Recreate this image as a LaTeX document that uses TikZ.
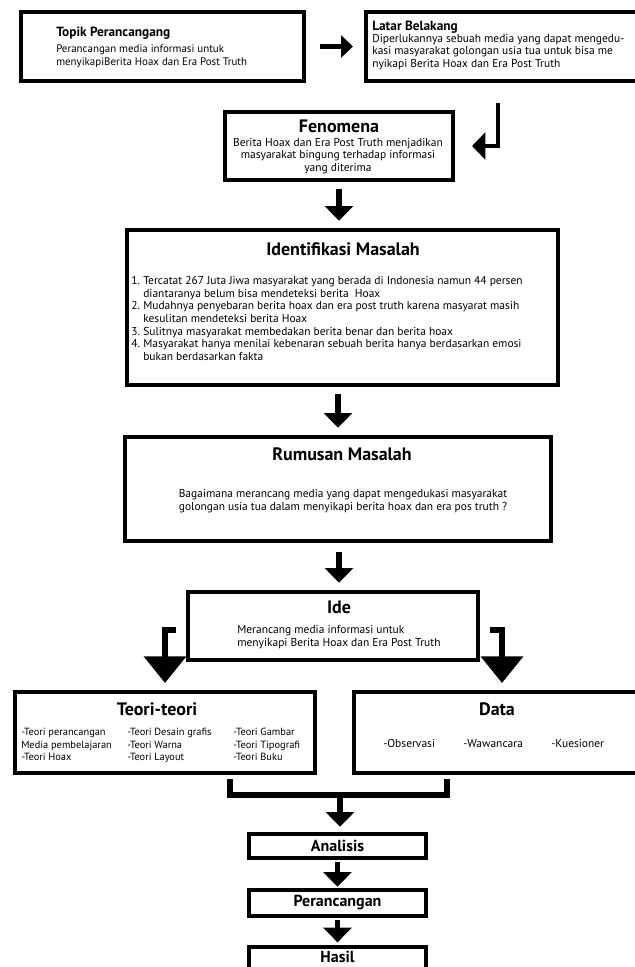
\documentclass[tikz,border=0pt]{standalone}
\usepackage{fontspec}
\setmainfont{PT Sans}
\usetikzlibrary{arrows.meta,calc}

\begin{document}
\begin{tikzpicture}[x=0.75pt, y=-0.75pt,
	box/.style={shape=rectangle, draw, line width=3pt, inner sep=0pt},
	ttl/.style={anchor=center, inner sep=0pt, font=\bfseries\fontsize{13.5}{15}\selectfont},
	lowttl/.style={anchor=center, inner sep=0pt, font=\bfseries\fontsize{12}{14}\selectfont},
	smallttl/.style={anchor=west, inner sep=0pt, font=\bfseries\fontsize{10}{12}\selectfont},
	body/.style={inner sep=0pt, font=\fontsize{8.6}{9.4}\selectfont},
	flow/.style={line width=4.2pt, -{Triangle[width=21pt,length=11pt]}, shorten <=5pt, shorten >=5.5pt},
	fork/.style={line width=4.5pt, line join=miter, -{Triangle[width=31pt,length=20pt]}, shorten >=5.25pt},
	merge/.style={line width=4.5pt, line join=miter, shorten <=3pt, shorten >=3pt}]
	\useasboundingbox (0,0) rectangle (635,967);
	% Boxes and texts:
	\node[box, minimum width=212.25pt, minimum height=51.75pt] (topik) at (162.5, 46.5){} node[smallttl] (topikTitle) at (56, 33){Topik Perancangang};
	\node[body, anchor=west, align=left, font=\fontsize{8.2}{9.6}\selectfont] (topikText) at (56, 56.5){Perancangan media informasi untuk\\menyikapiBerita Hoax dan Era Post Truth};
	\node[box, minimum width=212pt, minimum height=51.75pt] (latar) at (507, 46.5){} node[smallttl] (latarTitle) at (372, 27){Latar Belakang};
	\node[body, anchor=west, align=left] (latarText) at (372, 52){Diperlukannya sebuah media yang dapat mengedu-\\kasi masyarakat golongan usia tua untuk bisa me\\nyikapi Berita Hoax dan Era Post Truth};
	\node[box, minimum width=171pt, minimum height=51pt] (fenomena) at (339, 146){} node[ttl] (fenomenaTitle) at (339, 126){Fenomena};
	\node[body, align=center] (fenomenaText) at (338, 156){Berita Hoax dan Era Post Truth menjadikan\\masyarakat bingung terhadap informasi\\yang diterima};
	\node[box, minimum width=323.25pt, minimum height=116.25pt] (ident) at (342.5, 307.5){} node[ttl] (identTitle) at (343, 249){Identifikasi Masalah};
	\node[body, anchor=west] (identText) at (131, 320){\begin{tabular}{@{}r@{\hspace{2.5pt}}l@{}}
		1. & Tercatat 267 Juta Jiwa masyarakat yang berada di Indonesia namun 44 persen\\
		   & diantaranya belum bisa mendeteksi berita\ \ Hoax\\
		2. & Mudahnya penyebaran berita hoax dan era post truth karena masyarat masih\\
		   & kesulitan mendeteksi berita Hoax\\
		3. & Sulitnya masyarakat membedakan berita benar dan berita hoax\\
		4. & Masyarakat hanya menilai kebenaran sebuah berita hanya berdasarkan emosi\\
		   & bukan berdasarkan fakta
	\end{tabular}};
	\node[box, minimum width=319.5pt, minimum height=78pt] (rumusan) at (338, 489){} node[ttl] (rumusanTitle) at (342, 454){Rumusan Masalah};
	\node[body, align=center] (rumusanText) at (343, 501){Bagaimana merancang media yang dapat mengedukasi masyarakat\\golongan usia tua dalam menyikapi berita hoax dan era pos truth ?};
	\node[box, minimum width=217.5pt, minimum height=51pt] (ide) at (333, 626){} node[ttl] (ideTitle) at (339, 607){Ide};
	\node[body, anchor=west, align=left] (ideText) at (237, 637){Merancang media informasi untuk\\menyikapi Berita Hoax dan Era Post Truth};
	\node[box, minimum width=225pt, minimum height=60.75pt] (teori) at (165, 732.5){} node[ttl] (teoriTitle) at (157, 709){Teori-teori};
	\node[body, anchor=west, font=\fontsize{7.8}{9.4}\selectfont] (teoriText) at (21, 745.5){\begin{tabular}{@{}p{79.5pt}@{}p{79.5pt}@{}l@{}}
		-Teori perancangan & -Teori Desain grafis & -Teori Gambar\\
		Media pembelajaran & -Teori Warna & -Teori Tipografi\\
		-Teori Hoax & -Teori Layout & -Teori Buku
	\end{tabular}};
	\node[box, minimum width=222pt, minimum height=60.75pt] (data) at (502, 732.5){} node[ttl] (dataTitle) at (497, 709){Data};
	\node[body, anchor=base west] (obs) at (383, 747){-Observasi};
	\node[body, anchor=base west] (waw) at (463, 747){-Wawancara};
	\node[body, anchor=base west] (kues) at (551, 747){-Kuesioner};
	\node[box, minimum width=132.75pt, minimum height=18pt] (analisis) at (337.5, 846){} node[lowttl] (analisisT) at (337.5, 846){Analisis};
	\node[box, minimum width=132.75pt, minimum height=19.5pt] (peran) at (337.5, 903){} node[lowttl] (peranT) at (337.5, 903){Perancangan};
	\node[box, minimum width=132.75pt, minimum height=22.5pt] (hasil) at (337.5, 962){} node[lowttl] (hasilT) at (337.5, 957){Hasil};
	% Arrows:
	\coordinate (turn) at (498, 103);
	\coordinate (forkL) at (176, 630);
	\coordinate (forkR) at (490, 630);
	\coordinate (mergeL) at (230, 795);
	\coordinate (mergeR) at (447, 795);
	\coordinate (mergeC) at (340, 795);
	\draw[flow, -{Triangle[width=16.5pt,length=9pt]}, shorten <=10.5pt, shorten >=8pt] (topik.east) -- (latar.west);
	\draw[line width=3pt, line join=miter, -{Triangle[width=20pt,length=10pt]}, shorten >=12.75pt] (turn) |- (fenomena.east);
	\draw[flow] (fenomena.south) -- (fenomena.south |- ident.north);
	\draw[flow] (ident.south -| rumusan.south) -- (rumusan.north);
	\draw[flow, shorten <=7pt] (rumusan.south -| ideTitle) -- (ide.north -| ideTitle);
	\draw[fork] (forkL) -| (teori.north);
	\draw[fork] (forkR) -| (data.north);
	\draw[merge] (teori.south -| mergeL) -- (mergeL) -- (mergeR) -- (data.south -| mergeR);
	\draw[flow, shorten <=0pt, shorten >=4pt] (mergeC) -- (analisis.north -| mergeC);
	\draw[flow, shorten <=1.5pt, shorten >=1pt] (analisis.south) -- (peran.north);
	\draw[flow, shorten <=1.5pt, shorten >=2pt] (peran.south) -- (hasil.north);
\end{tikzpicture}
\end{document}
